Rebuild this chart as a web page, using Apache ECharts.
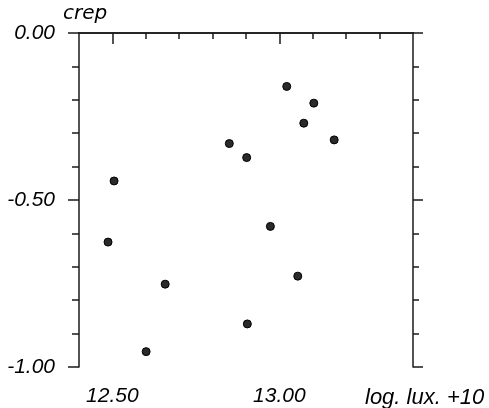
<!DOCTYPE html>
<html style="height: 100%">
<head>
    <meta charset="utf-8">
    <script src="https://cdn.jsdelivr.net/npm/echarts@6/dist/echarts.min.js"></script>
</head>
<body style="height: 100%; margin: 0; background: #fff">
<div id="main" style="width: 489px; height: 408px;"></div>
<script type="text/javascript">
    // log. lux. +10  vs  crep
    const xVals = [12.487, 12.505, 12.601, 12.658, 12.850, 12.902, 12.904, 12.973, 13.022, 13.055, 13.073, 13.103, 13.164];
    const yVals = [-0.626, -0.443, -0.954, -0.752, -0.331, -0.373, -0.871, -0.579, -0.160, -0.728, -0.270, -0.210, -0.320];

    const xMajor = [12.5, 13.0];
    const xMinor = [12.6, 12.7, 12.8, 12.9, 13.1, 13.2, 13.3];
    const yMajor = [0, -0.5, -1.0];
    const yMinor = [-0.1, -0.2, -0.3, -0.4, -0.6, -0.7, -0.8, -0.9];

    const numFont = 'Liberation Sans';
    const ink = '#1a1a1a';

    var points = [];
    for (let i = 0; i < xVals.length; i++) {
        points.push([xVals[i], yVals[i]]);
    }

    function xAx(pos, ticks, len, inside, withLine, withLabel) {
        return {
            type: 'value', position: pos, min: 12.4, max: 13.4,
            splitLine: {show: false},
            axisLine: {show: withLine, lineStyle: {color: ink, width: 1.5}},
            axisTick: {show: true, inside: inside, length: len, customValues: ticks,
                lineStyle: {color: ink, width: 1.5}},
            axisLabel: withLabel ? {
                show: true, customValues: ticks, margin: 19,
                fontFamily: numFont, fontStyle: 'italic', fontSize: 21, color: '#000',
                formatter: function (v) { return v.toFixed(2); }
            } : {show: false}
        };
    }
    function yAx(pos, ticks, len, withLine, withLabel) {
        return {
            type: 'value', position: pos, min: -1, max: 0,
            splitLine: {show: false},
            axisLine: {show: withLine, lineStyle: {color: ink, width: 1.5}},
            axisTick: {show: true, length: len, customValues: ticks,
                lineStyle: {color: ink, width: 1.5}},
            axisLabel: withLabel ? {
                show: true, customValues: ticks, margin: 24,
                fontFamily: numFont, fontStyle: 'italic', fontSize: 21, color: '#000',
                formatter: function (v) { return v.toFixed(2); }
            } : {show: false}
        };
    }

    var chart = echarts.init(document.getElementById('main'));
    chart.setOption({
        animation: false,
        title: [
            {text: 'crep', left: 63, top: 4, padding: 0,
                textStyle: {fontFamily: 'DejaVu Sans', fontStyle: 'italic', fontWeight: 'normal', fontSize: 20, color: '#000'}},
            {text: 'log. lux. +10', left: 365, top: 387, padding: 0,
                textStyle: {fontFamily: numFont, fontStyle: 'italic', fontWeight: 'normal', fontSize: 22, color: '#000'}}
        ],
        grid: {left: 79, right: 76, top: 33, bottom: 41, containLabel: false},
        xAxis: [
            xAx('bottom', xMajor, 11, false, true, true),
            xAx('bottom', xMinor, 6, false, false, false),
            xAx('top', xMajor, 10, true, true, false),
            xAx('top', xMinor, 6, true, false, false)
        ],
        yAxis: [
            yAx('left', yMajor, 11, true, true),
            yAx('left', yMinor, 7, false, false),
            yAx('right', yMajor, 10, true, false),
            yAx('right', yMinor, 6, false, false)
        ],
        series: [{
            type: 'scatter',
            xAxisIndex: 0,
            yAxisIndex: 0,
            symbol: 'circle',
            symbolSize: 8,
            itemStyle: {color: '#2a2a2a', borderColor: '#000', borderWidth: 1, opacity: 1},
            data: points
        }]
    });
</script>
</body>
</html>
